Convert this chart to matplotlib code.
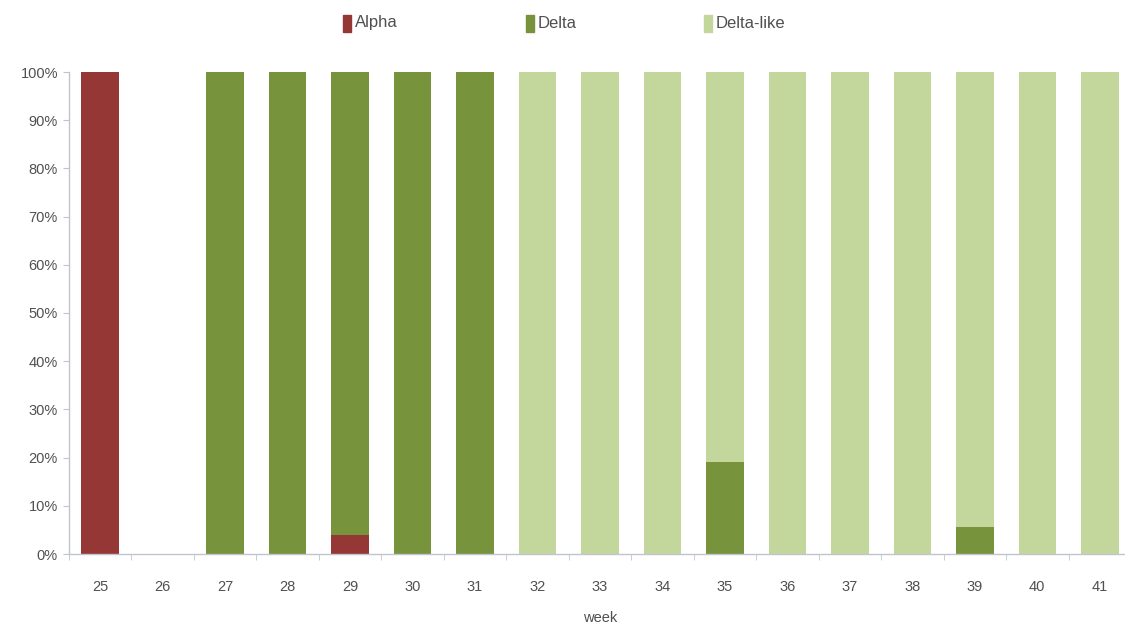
import matplotlib
matplotlib.use("Agg")
import matplotlib.pyplot as plt
import numpy as np
from matplotlib.ticker import FixedLocator, FuncFormatter

weeks = ["25", "26", "27", "28", "29", "30", "31", "32", "33", "34", "35",
         "36", "37", "38", "39", "40", "41"]
alpha = [100, 0, 0, 0, 4, 0, 0, 0, 0, 0, 0, 0, 0, 0, 0, 0, 0]
delta = [0, 0, 100, 100, 96, 100, 100, 0, 0, 0, 19, 0, 0, 0, 5.5, 0, 0]
delta_like = [0, 0, 0, 0, 0, 0, 0, 100, 100, 100, 81, 100, 100, 100, 94.5, 100, 100]
series_names = ["Alpha", "Delta", "Delta-like"]
colors = ["#953735", "#77933C", "#C3D69B"]
yticks = [0, 10, 20, 30, 40, 50, 60, 70, 80, 90, 100]

plt.rcParams['font.family'] = ['Liberation Sans Narrow', 'Liberation Sans', 'DejaVu Sans']
text_color = "#505050"

fig = plt.figure(figsize=(11.25, 6.3), dpi=100)
ax = fig.add_axes([69 / 1125, 76 / 630, (1131 - 69) / 1125, 482 / 630])

x = np.arange(len(weeks))
a = np.array(alpha, dtype=float)
d = np.array(delta, dtype=float)
dl = np.array(delta_like, dtype=float)
ax.bar(x, a, width=0.6, color=colors[0], label=series_names[0])
ax.bar(x, d, width=0.6, bottom=a, color=colors[1], label=series_names[1])
ax.bar(x, dl, width=0.6, bottom=a + d, color=colors[2], label=series_names[2])

ax.set_xlim(-0.5, len(weeks) - 0.5)
ax.set_ylim(0, 100)
ax.set_yticks(yticks)
ax.yaxis.set_major_formatter(FuncFormatter(lambda v, p: f"{int(v)}%"))
ax.set_xticks(x)
ax.set_xticklabels(weeks)
ax.xaxis.set_minor_locator(FixedLocator(np.arange(-0.5, len(weeks), 1.0)))
ax.tick_params(axis='x', which='major', length=0, pad=19, labelsize=10.5, labelcolor=text_color)
ax.tick_params(axis='x', which='minor', length=4, color="#BFC4CF", direction='out')
ax.tick_params(axis='y', which='major', length=4, color="#BFC4CF", labelsize=10.5,
               labelcolor=text_color, pad=4)

for s in ["top", "right"]:
    ax.spines[s].set_visible(False)
for s in ["left", "bottom"]:
    ax.spines[s].set_color("#BFC4CF")
    ax.spines[s].set_linewidth(1.0)

ax.set_xlabel("week", fontsize=10.5, color=text_color, labelpad=12)

# legend at top
leg_x = [343, 526, 704]
for h_x, name, c in zip(leg_x, series_names, colors):
    fig.patches.append(plt.Rectangle((h_x / 1125, 1 - 32 / 630), 8 / 1125, 17 / 630,
                                     color=c, transform=fig.transFigure, figure=fig))
    fig.text((h_x + 12) / 1125, 1 - 23 / 630, name, fontsize=12, color=text_color,
             va='center', ha='left')

fig.savefig("out.png", dpi=100)
